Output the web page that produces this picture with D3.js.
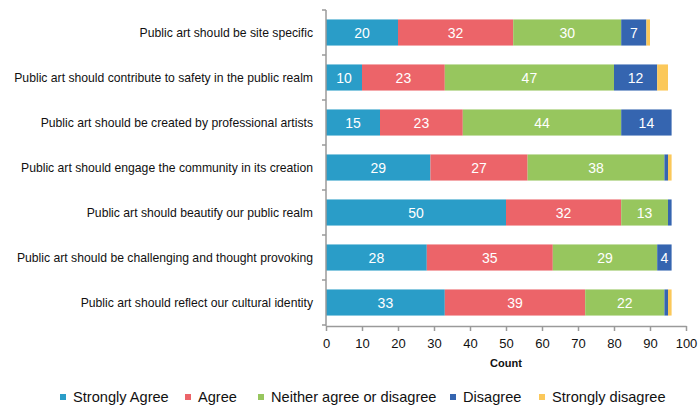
<!DOCTYPE html>
<html>
<head>
<meta charset="utf-8">
<script src="https://cdn.jsdelivr.net/npm/d3@7"></script>
<style>
  html, body { margin: 0; padding: 0; background: #fff; }
  svg { display: block; font-family: "Liberation Sans", Arial, sans-serif; }
</style>
</head>
<body>
<svg id="chart" width="698" height="408"></svg>
<script>
// Survey statements (top to bottom)
const statements = [
  "Public art should be site specific",
  "Public art should contribute to safety in the public realm",
  "Public art should be created by professional artists",
  "Public art should engage the community in its creation",
  "Public art should beautify our public realm",
  "Public art should be challenging and thought provoking",
  "Public art should reflect our cultural identity"
];

const responses = ["Strongly Agree", "Agree", "Neither agree or disagree", "Disagree", "Strongly disagree"];

// Counts per response, one value per statement
const stronglyAgree    = [20, 10, 15, 29, 50, 28, 33];
const agree            = [32, 23, 23, 27, 32, 35, 39];
const neither          = [30, 47, 44, 38, 13, 29, 22];
const disagree         = [7, 12, 14, 1, 1, 4, 1];
const stronglyDisagree = [1, 3, 0, 1, 0, 0, 1];

const xTicks = [0, 10, 20, 30, 40, 50, 60, 70, 80, 90, 100];

const colors = ["#2a9dc8", "#ec6469", "#97c65e", "#3565b0", "#fbc85a"];

const seriesValues = [stronglyAgree, agree, neither, disagree, stronglyDisagree];
const rows = statements.map((s, i) => {
  const r = { statement: s };
  responses.forEach((k, j) => { r[k] = seriesValues[j][i]; });
  return r;
});

const svg = d3.select("#chart");
const margin = { left: 326, top: 10 };

const x = d3.scaleLinear().domain([0, 100]).range([margin.left, 686]);
const y = d3.scaleBand().domain(statements).range([margin.top, 325]).paddingInner(0.42).paddingOuter(0.21);
const color = d3.scaleOrdinal().domain(responses).range(colors);

const stacked = d3.stack().keys(responses)(rows);

const layers = svg.append("g").selectAll("g")
  .data(stacked).join("g")
  .attr("fill", d => color(d.key));

layers.selectAll("rect")
  .data(d => d.map(p => ({ p, key: d.key })))
  .join("rect")
  .attr("x", d => x(d.p[0]))
  .attr("y", d => y(d.p.data.statement))
  .attr("width", d => Math.max(0, x(d.p[1]) - x(d.p[0])))
  .attr("height", y.bandwidth());

// Value labels inside segments wide enough to hold them
layers.selectAll("text")
  .data(d => d.map(p => ({ p, key: d.key })).filter(d => d.p[1] - d.p[0] >= 4))
  .join("text")
  .attr("x", d => (x(d.p[0]) + x(d.p[1])) / 2)
  .attr("y", d => y(d.p.data.statement) + y.bandwidth() / 2)
  .attr("dy", "0.36em")
  .attr("text-anchor", "middle")
  .attr("fill", "#fff")
  .attr("font-size", 14)
  .text(d => d.p[1] - d.p[0]);

// X axis
const xAxis = svg.append("g")
  .attr("transform", `translate(0,326)`)
  .call(d3.axisBottom(x).tickValues(xTicks).tickSize(5).tickSizeOuter(0));
xAxis.select(".domain").attr("stroke", "#9a9a9a").attr("stroke-width", 1.5);
xAxis.selectAll(".tick line").attr("stroke", "#9a9a9a").attr("stroke-width", 1.5);
xAxis.selectAll(".tick text").attr("font-size", 13).attr("fill", "#111").attr("dy", "1.05em");

// Y axis with ticks between categories
const yAxisG = svg.append("g").attr("transform", `translate(${margin.left},0)`);
yAxisG.append("line")
  .attr("x1", 0).attr("x2", 0)
  .attr("y1", margin.top).attr("y2", 326)
  .attr("stroke", "#9a9a9a").attr("stroke-width", 1.5);
const step = y.step();
const boundaries = d3.range(statements.length + 1).map(i => margin.top + i * step);
yAxisG.selectAll(".sep").data(boundaries).join("line")
  .attr("x1", -4).attr("x2", 0)
  .attr("y1", d => d).attr("y2", d => d)
  .attr("stroke", "#9a9a9a").attr("stroke-width", 1.5);

yAxisG.selectAll(".lbl").data(statements).join("text")
  .attr("x", -13)
  .attr("y", d => y(d) + y.bandwidth() / 2)
  .attr("dy", "0.35em")
  .attr("text-anchor", "end")
  .attr("font-size", 12.2)
  .attr("fill", "#111")
  .text(d => d);

// Axis title
svg.append("text")
  .attr("x", x(50))
  .attr("y", 363)
  .attr("dy", "0.35em")
  .attr("text-anchor", "middle")
  .attr("font-size", 11)
  .attr("font-weight", "bold")
  .attr("fill", "#111")
  .text("Count");

// Legend
const legendX = [63, 188, 261, 453, 542];
const legend = svg.append("g").selectAll("g").data(responses).join("g")
  .attr("transform", (d, i) => `translate(${legendX[i]},397)`);
legend.append("rect")
  .attr("x", -3).attr("y", -3).attr("width", 6).attr("height", 6)
  .attr("fill", d => color(d));
legend.append("text")
  .attr("x", 10).attr("dy", "0.36em")
  .attr("font-size", 14.6)
  .attr("fill", "#111")
  .text(d => d);
</script>
</body>
</html>
